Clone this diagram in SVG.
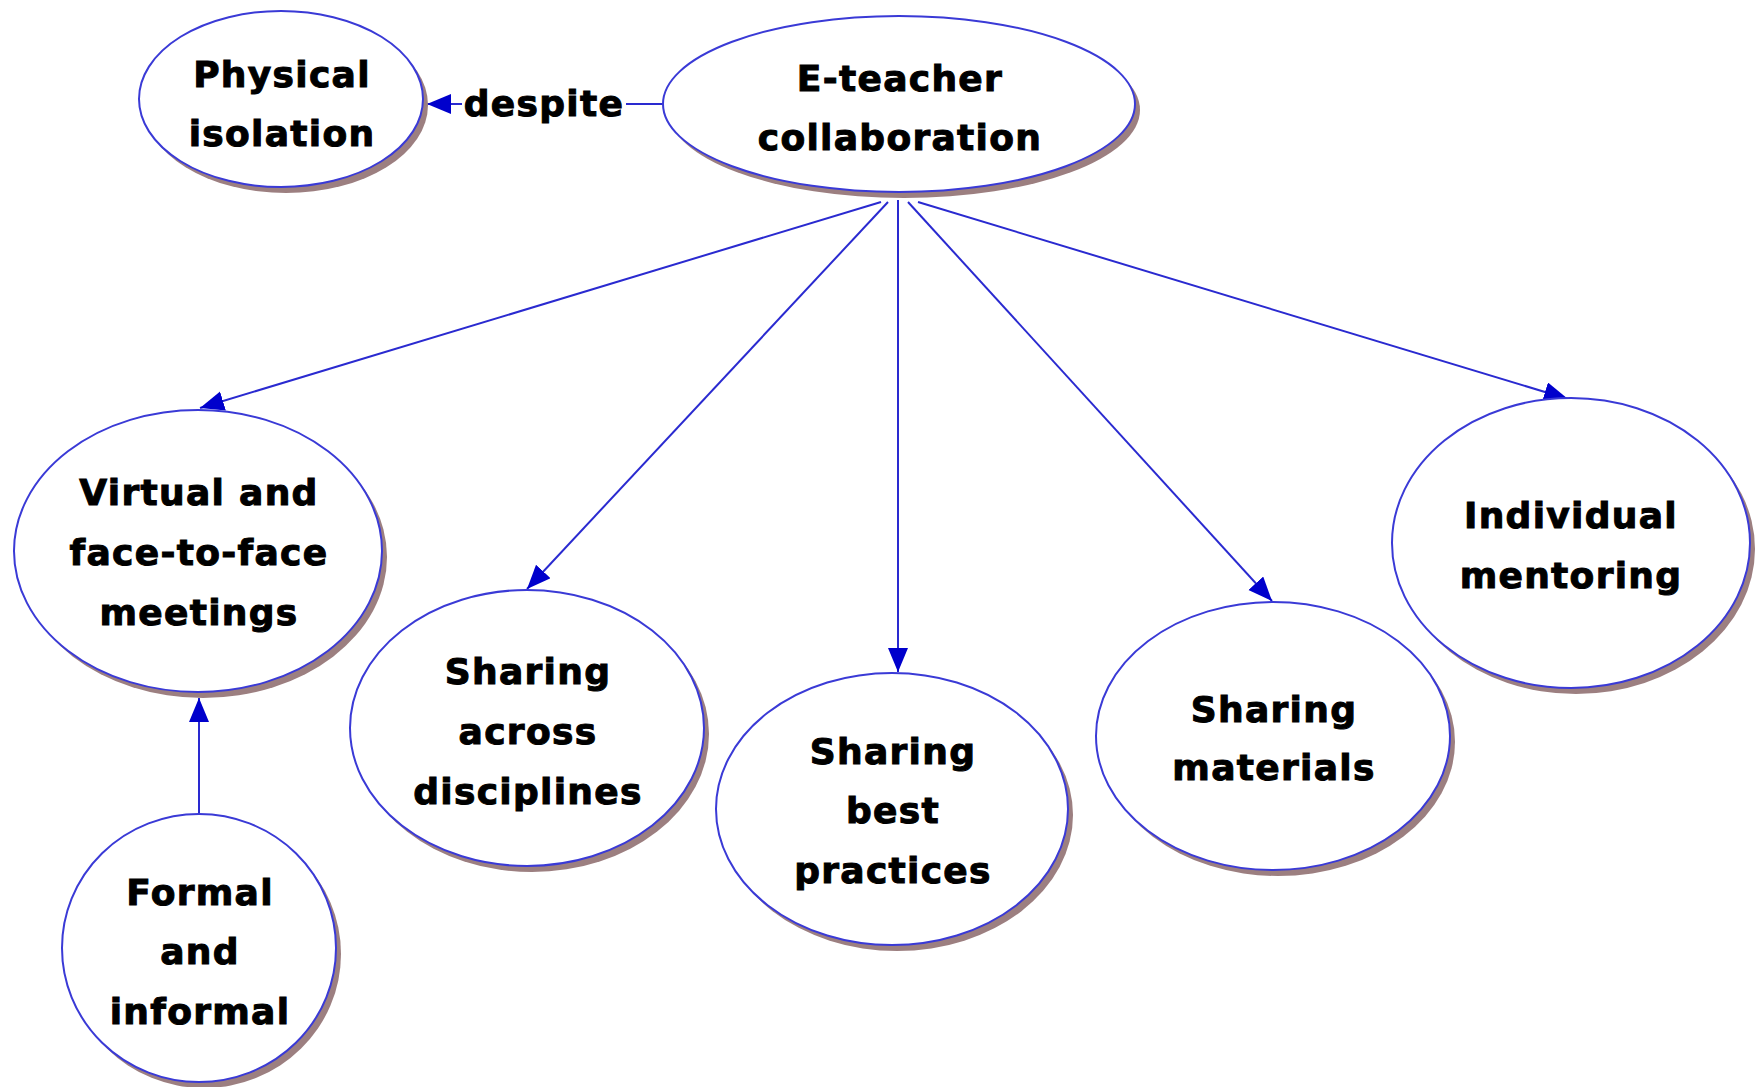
<svg xmlns="http://www.w3.org/2000/svg" width="1760" height="1087" viewBox="0 0 1760 1087">
  <style>
    .shadow { fill: #9c7f80; }
    .node { fill: #ffffff; stroke: #3a3ad6; stroke-width: 2; }
    .label { font-family: "DejaVu Sans", Verdana, sans-serif; font-weight: bold; font-size: 36px; letter-spacing: 1.3px; fill: #000000; text-anchor: middle; stroke: #000000; stroke-width: 1; }
    .link { stroke: #2a2ad0; stroke-width: 2; fill: none; }
  </style>
  <defs>
    <marker id="arrow" markerUnits="userSpaceOnUse" markerWidth="26" markerHeight="22" refX="24" refY="10" orient="auto">
      <path d="M0,0 L24,10 L0,20 Z" fill="#0000cc"/>
    </marker>
  </defs>
  <rect width="1760" height="1087" fill="#ffffff"/>

  <!-- connectors -->
  <g id="connectors">
    <line class="link" x1="663" y1="104" x2="626" y2="104"/>
    <line class="link" x1="462" y1="104" x2="427" y2="104" marker-end="url(#arrow)"/>
    <line class="link" x1="881" y1="202" x2="200" y2="408" marker-end="url(#arrow)"/>
    <line class="link" x1="888" y1="202" x2="527" y2="589" marker-end="url(#arrow)"/>
    <line class="link" x1="898" y1="200" x2="898" y2="672" marker-end="url(#arrow)"/>
    <line class="link" x1="908" y1="202" x2="1272" y2="601" marker-end="url(#arrow)"/>
    <line class="link" x1="918" y1="202" x2="1568" y2="399" marker-end="url(#arrow)"/>
    <line class="link" x1="199" y1="813" x2="199" y2="698" marker-end="url(#arrow)"/>
    <text class="label" x="544" y="116">despite</text>
  </g>

  <g id="physical-isolation">
    <ellipse class="shadow" cx="286" cy="105" rx="142" ry="88"/>
    <ellipse class="node" cx="281" cy="99" rx="142" ry="88"/>
    <text class="label" x="282" y="87">Physical</text>
    <text class="label" x="282" y="146">isolation</text>
  </g>

  <g id="e-teacher-collaboration">
    <ellipse class="shadow" cx="904" cy="110" rx="236" ry="88"/>
    <ellipse class="node" cx="899" cy="104" rx="236" ry="88"/>
    <text class="label" x="900" y="91">E-teacher</text>
    <text class="label" x="900" y="150">collaboration</text>
  </g>

  <g id="virtual-meetings">
    <ellipse class="shadow" cx="203" cy="557" rx="184" ry="141"/>
    <ellipse class="node" cx="198" cy="551" rx="184" ry="141"/>
    <text class="label" x="199" y="505">Virtual and</text>
    <text class="label" x="199" y="565">face-to-face</text>
    <text class="label" x="199" y="625">meetings</text>
  </g>

  <g id="formal-informal">
    <ellipse class="shadow" cx="204" cy="954" rx="137" ry="134"/>
    <ellipse class="node" cx="199" cy="948" rx="137" ry="134"/>
    <text class="label" x="200" y="905">Formal</text>
    <text class="label" x="200" y="964">and</text>
    <text class="label" x="200" y="1024">informal</text>
  </g>

  <g id="sharing-disciplines">
    <ellipse class="shadow" cx="532" cy="734" rx="177" ry="138"/>
    <ellipse class="node" cx="527" cy="728" rx="177" ry="138"/>
    <text class="label" x="528" y="684">Sharing</text>
    <text class="label" x="528" y="744">across</text>
    <text class="label" x="528" y="804">disciplines</text>
  </g>

  <g id="sharing-best-practices">
    <ellipse class="shadow" cx="897" cy="815" rx="176" ry="136"/>
    <ellipse class="node" cx="892" cy="809" rx="176" ry="136"/>
    <text class="label" x="893" y="764">Sharing</text>
    <text class="label" x="893" y="823">best</text>
    <text class="label" x="893" y="883">practices</text>
  </g>

  <g id="sharing-materials">
    <ellipse class="shadow" cx="1278" cy="742" rx="177" ry="134"/>
    <ellipse class="node" cx="1273" cy="736" rx="177" ry="134"/>
    <text class="label" x="1274" y="722">Sharing</text>
    <text class="label" x="1274" y="780">materials</text>
  </g>

  <g id="individual-mentoring">
    <ellipse class="shadow" cx="1576" cy="549" rx="179" ry="145"/>
    <ellipse class="node" cx="1571" cy="543" rx="179" ry="145"/>
    <text class="label" x="1571" y="528">Individual</text>
    <text class="label" x="1571" y="588">mentoring</text>
  </g>
</svg>
